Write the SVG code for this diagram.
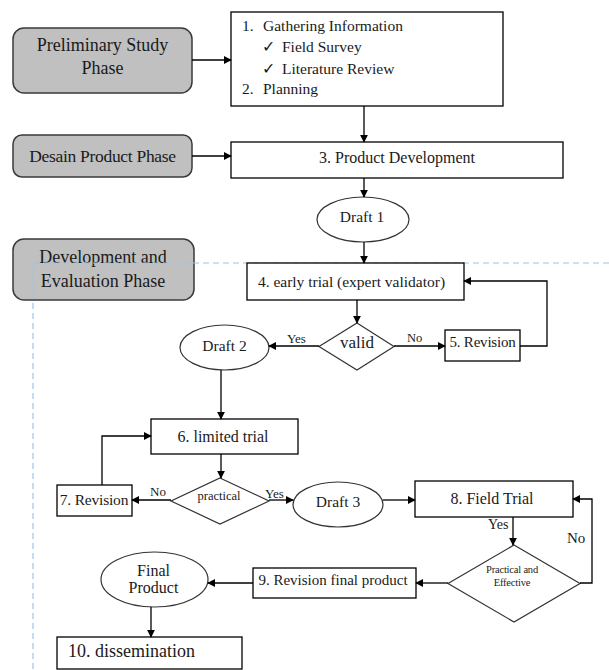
<svg xmlns="http://www.w3.org/2000/svg" width="609" height="670" viewBox="0 0 609 670">
<style>
text{font-family:"Liberation Serif","Times New Roman",serif;fill:#1a1a1a}
.phase{fill:#c0c0c0;stroke:#3a3a3a;stroke-width:1.5}
.box{fill:#fff;stroke:#000;stroke-width:1.3}
.dia{fill:#fff;stroke:#333;stroke-width:1.2}
.ell{fill:#fff;stroke:#333;stroke-width:1.2}
.c line,.c polyline{stroke:#000;stroke-width:1.3;fill:none}
.t18{font-size:18px}
.t16{font-size:16px}
.t15{font-size:15.5px}
.t13{font-size:13px}
</style>
<defs>
<marker id="ah" viewBox="0 0 10 10" refX="9" refY="5" markerWidth="8" markerHeight="8" markerUnits="userSpaceOnUse" orient="auto">
<path d="M0,0 L10,5 L0,10 z" fill="#000"/>
</marker>
</defs>
<rect x="0" y="0" width="609" height="670" fill="#fff"/>

<g id="phase1"><rect class="phase" x="13" y="28" width="179" height="65" rx="11"/>
<text class="t18" x="102.5" y="51" text-anchor="middle">Preliminary Study</text>
<text class="t18" x="102.5" y="74" text-anchor="middle">Phase</text></g>
<g id="phase2"><rect class="phase" x="13" y="135" width="179" height="42" rx="9"/>
<text x="102.5" y="162" text-anchor="middle" font-size="17.5" letter-spacing="-0.3">Desain Product Phase</text></g>
<g id="phase3"><rect class="phase" x="13" y="239" width="181" height="61" rx="11"/>
<text class="t18" x="103" y="263" text-anchor="middle">Development and</text>
<text class="t18" x="103" y="287" text-anchor="middle">Evaluation Phase</text></g>

<g id="dashed"><path d="M33,263 H609 M33,263 V670" stroke="#9dc3e6" stroke-width="1.2" stroke-dasharray="6,4" fill="none"/></g>

<g id="n1"><rect class="box" x="231" y="12" width="272" height="94"/>
<text class="t15" x="242" y="31">1.</text><text class="t15" x="263" y="31">Gathering Information</text>
<text class="t15" x="262" y="52">✓</text><text class="t15" x="282" y="52">Field Survey</text>
<text class="t15" x="262" y="74">✓</text><text class="t15" x="282" y="74">Literature Review</text>
<text class="t15" x="242" y="94">2.</text><text class="t15" x="263" y="94">Planning</text></g>
<g id="n3"><rect class="box" x="231" y="142" width="332" height="36"/>
<text class="t16" x="397" y="163" text-anchor="middle">3. Product Development</text></g>
<g id="draft1"><ellipse class="ell" cx="363" cy="219.5" rx="46" ry="22.5"/>
<text class="t15" x="362" y="222" text-anchor="middle">Draft 1</text></g>
<g id="n4"><rect class="box" x="247" y="263" width="217" height="37"/>
<text class="t15" x="351.5" y="287" text-anchor="middle">4. early trial (expert validator)</text></g>
<g id="valid"><polygon class="dia" points="357,323 394,346.5 357,370 319,346.5"/>
<text x="357" y="348" text-anchor="middle" font-size="17">valid</text></g>
<g id="n5"><rect class="box" x="445" y="330" width="75" height="31"/>
<text x="482.5" y="347" text-anchor="middle" font-size="15" letter-spacing="-0.2">5. Revision</text></g>
<g id="draft2"><ellipse class="ell" cx="224.5" cy="347.5" rx="44.5" ry="22.5"/>
<text class="t15" x="224.5" y="351" text-anchor="middle">Draft 2</text></g>
<g id="n6"><rect class="box" x="151" y="419" width="147" height="35"/>
<text class="t16" x="223" y="442" text-anchor="middle">6. limited trial</text></g>
<g id="practical"><polygon class="dia" points="220,478 269,501 220,524 171,501"/>
<text x="219" y="500" text-anchor="middle" font-size="12.5">practical</text></g>
<g id="n7"><rect class="box" x="57" y="485" width="75" height="31"/>
<text x="94" y="505" text-anchor="middle" font-size="15.5" letter-spacing="-0.2">7. Revision</text></g>
<g id="draft3"><ellipse class="ell" cx="338" cy="504.5" rx="45" ry="22.5"/>
<text class="t15" x="338" y="507" text-anchor="middle">Draft 3</text></g>
<g id="n8"><rect class="box" x="415" y="481" width="158" height="36"/>
<text class="t16" x="492" y="504" text-anchor="middle">8. Field Trial</text></g>
<g id="pe"><polygon class="dia" points="514,545 580,583.5 514,622 448,583.5"/>
<text x="512" y="573" text-anchor="middle" font-size="10.5" letter-spacing="-0.2">Practical and</text>
<text x="512" y="586" text-anchor="middle" font-size="10.5" letter-spacing="-0.2">Effective</text></g>
<g id="n9"><rect class="box" x="253" y="568" width="163" height="30"/>
<text x="333" y="585" text-anchor="middle" font-size="15">9. Revision final product</text></g>
<g id="final"><ellipse class="ell" cx="154.5" cy="579.5" rx="53.5" ry="27.5"/>
<text class="t16" x="153.5" y="576" text-anchor="middle">Final</text>
<text class="t16" x="153.5" y="593" text-anchor="middle">Product</text></g>
<g id="n10"><rect class="box" x="57" y="637" width="185" height="32"/>
<text class="t18" x="68" y="657">10. dissemination</text></g>

<g id="connectors" class="c">
<line x1="192" y1="60" x2="231" y2="60" marker-end="url(#ah)"/>
<line x1="192" y1="156" x2="231" y2="156" marker-end="url(#ah)"/>
<line x1="364" y1="106" x2="364" y2="142" marker-end="url(#ah)"/>
<line x1="364" y1="178" x2="364" y2="197" marker-end="url(#ah)"/>
<line x1="364" y1="242" x2="364" y2="263" marker-end="url(#ah)"/>
<line x1="357" y1="300" x2="357" y2="323" marker-end="url(#ah)"/>
<line x1="394" y1="346" x2="445" y2="346" marker-end="url(#ah)"/>
<polyline points="520,346 547,346 547,281 464,281" marker-end="url(#ah)"/>
<line x1="319" y1="346" x2="269" y2="346" marker-end="url(#ah)"/>
<line x1="221" y1="370" x2="221" y2="419" marker-end="url(#ah)"/>
<line x1="221" y1="454" x2="221" y2="478" marker-end="url(#ah)"/>
<line x1="171" y1="500" x2="132" y2="500" marker-end="url(#ah)"/>
<polyline points="102,485 102,436 151,436" marker-end="url(#ah)"/>
<line x1="269" y1="500" x2="293" y2="500" marker-end="url(#ah)"/>
<line x1="383" y1="500" x2="415" y2="500" marker-end="url(#ah)"/>
<line x1="513" y1="517" x2="513" y2="545" marker-end="url(#ah)"/>
<polyline points="580,583 592,583 592,499 573,499" marker-end="url(#ah)"/>
<line x1="448" y1="583" x2="416" y2="583" marker-end="url(#ah)"/>
<line x1="253" y1="583" x2="208" y2="583" marker-end="url(#ah)"/>
<line x1="151" y1="607" x2="151" y2="637" marker-end="url(#ah)"/>
<text x="287" y="343" font-size="13">Yes</text>
<text x="407" y="342" font-size="12.5">No</text>
<text x="150" y="496" font-size="13">No</text>
<text x="265" y="498" font-size="13">Yes</text>
<text x="488" y="529" font-size="14">Yes</text>
<text x="567" y="543" font-size="15">No</text>
</g>
</svg>
